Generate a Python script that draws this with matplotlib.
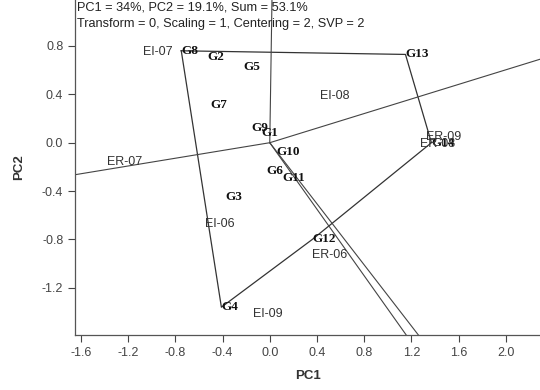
import matplotlib.pyplot as plt
import numpy as np

# genotype scores (PC1, PC2)
genotypes = ["G1", "G2", "G3", "G4", "G5", "G6", "G7", "G8", "G9", "G10",
             "G11", "G12", "G13", "G14"]
geno_pc1 = [-0.07, -0.53, -0.38, -0.41, -0.22, -0.03, -0.50, -0.75, -0.16, 0.06,
            0.11, 0.36, 1.15, 1.37]
geno_pc2 = [0.08, 0.71, -0.45, -1.36, 0.63, -0.23, 0.31, 0.76, 0.12, -0.08,
            -0.29, -0.80, 0.73, 0.00]

# environment scores
environments = ["EI-07", "EI-08", "ER-09", "ER-08", "ER-07", "EI-06", "ER-06", "EI-09"]
env_pc1 = [-0.95, 0.55, 1.47, 1.42, -1.23, -0.42, 0.51, -0.02]
env_pc2 = [0.75, 0.39, 0.05, -0.01, -0.16, -0.67, -0.93, -1.42]

# convex hull vertices (order around polygon)
hull = ["G8", "G13", "G14", "G12", "G4"]

x_ticks = [-1.6, -1.2, -0.8, -0.4, 0.0, 0.4, 0.8, 1.2, 1.6, 2.0]
y_ticks = [-1.2, -0.8, -0.4, 0.0, 0.4, 0.8]


def main():
    fig = plt.figure(figsize=(5.4, 3.9), dpi=100)
    ax = fig.add_axes([0.139, 0.141, 0.861, 0.859])

    pos = {g: (x, y) for g, x, y in zip(genotypes, geno_pc1, geno_pc2)}
    hx = [pos[g][0] for g in hull] + [pos[hull[0]][0]]
    hy = [pos[g][1] for g in hull] + [pos[hull[0]][1]]
    ax.plot(hx, hy, color="#333333", linewidth=0.9)

    # sector rays from origin perpendicular to each polygon edge
    for i in range(len(hull)):
        p = np.array(pos[hull[i]])
        q = np.array(pos[hull[(i + 1) % len(hull)]])
        d = q - p
        n = np.array([d[1], -d[0]])
        if np.dot(n, p) < 0:
            n = -n
        n = n / np.linalg.norm(n)
        ax.plot([0, n[0] * 5], [0, n[1] * 5], color="#444444", linewidth=0.8)

    for g, x, y in zip(genotypes, geno_pc1, geno_pc2):
        ax.text(x, y, g, ha="left", va="center", fontsize=9.5,
                family="Liberation Serif", fontweight="bold", color="#111111")
    for e, x, y in zip(environments, env_pc1, env_pc2):
        ax.text(x, y, e, ha="center", va="center", fontsize=9,
                family="Liberation Sans", color="#333333")

    ax.text(0.004, 0.995, "PC1 = 34%, PC2 = 19.1%, Sum = 53.1%",
            transform=ax.transAxes, ha="left", va="top", fontsize=9.2,
            family="Liberation Sans", color="#222222")
    ax.text(0.004, 0.945, "Transform = 0, Scaling = 1, Centering = 2, SVP = 2",
            transform=ax.transAxes, ha="left", va="top", fontsize=9.2,
            family="Liberation Sans", color="#222222")

    ax.set_xlim(-1.65, 2.29)
    ax.set_ylim(-1.59, 1.18)
    ax.set_xticks(x_ticks)
    ax.set_xticklabels([f"{v:.1f}" for v in x_ticks])
    ax.set_yticks(y_ticks)
    ax.set_yticklabels([f"{v:.1f}" for v in y_ticks])
    ax.tick_params(labelsize=9, colors="#444444", length=5, width=0.8)
    for lab in ax.get_xticklabels() + ax.get_yticklabels():
        lab.set_family("Liberation Sans")
    for side in ["top", "right"]:
        ax.spines[side].set_visible(False)
    for side in ["left", "bottom"]:
        ax.spines[side].set_color("#555555")
        ax.spines[side].set_linewidth(0.9)

    ax.set_xlabel("PC1", fontsize=9.5, fontweight="bold", family="Liberation Sans",
                  color="#333333", labelpad=8)
    ax.set_ylabel("PC2", fontsize=9.5, fontweight="bold", family="Liberation Sans",
                  color="#333333", labelpad=12)

    fig.savefig("out.png", dpi=100)
    plt.close(fig)


if __name__ == "__main__":
    main()
